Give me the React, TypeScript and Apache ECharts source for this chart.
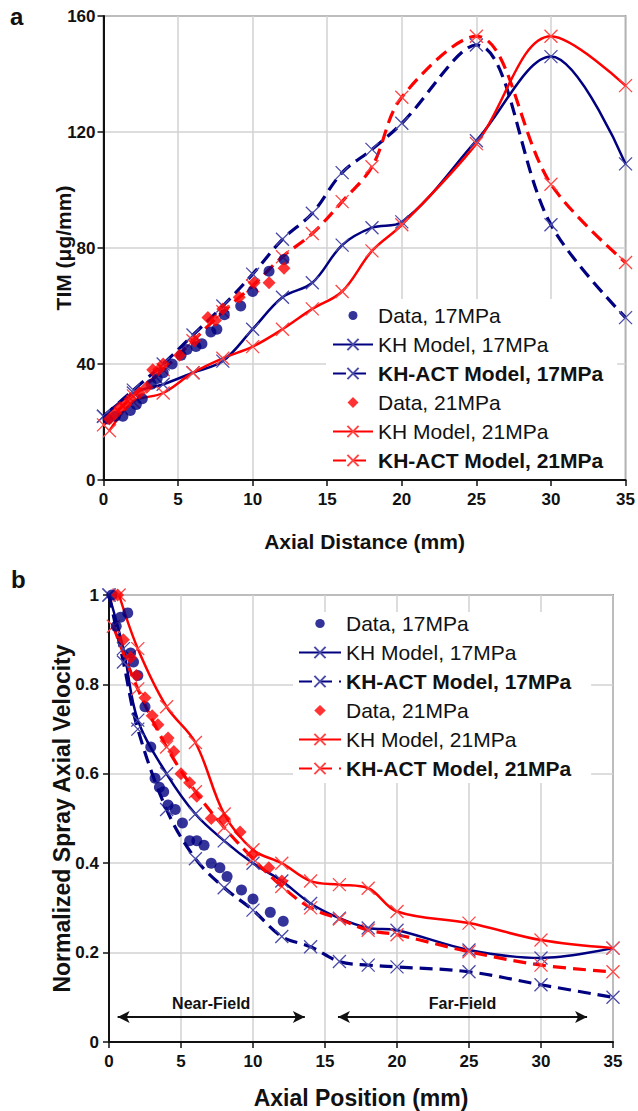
import React, { useEffect, useRef } from "react";
import * as echarts from "echarts";

// ---------- Panel a: TIM vs axial distance ----------
const timData17: number[][] = [[0.3,21],[0.8,22],[1.3,22],[1.8,24],[2.2,26],[2.6,28],[3.2,33],[3.6,35],[4.0,37],[4.6,40],[5.2,43],[5.6,45],[6.2,46],[6.6,47],[7.2,51],[7.6,52],[8.1,57],[9.2,60],[10.0,65],[11.1,72],[12.1,76]];
const timData21: number[][] = [[0.4,21],[0.8,23],[1.1,25],[1.5,26],[1.8,28],[2.4,30],[2.9,32],[3.3,38],[3.7,38],[4.0,40],[5.1,43],[6.1,48],[7.0,56],[7.5,55],[8.0,59],[9.1,63],[10.1,68],[11.1,68],[12.1,73]];
const timKH17: number[][] = [[0,22],[2,30],[4,33],[6,37],[8,41],[10,52],[12,63],[14,68],[16,81],[18,87],[20,89],[25,117],[30,146],[35,109]];
const timACT17: number[][] = [[0,22],[2,31],[4,40],[6,50],[8,60],[10,71],[12,83],[14,92],[16,106],[18,114],[20,123],[25,150],[30,88],[35,56]];
const timKH21: number[][] = [[0.4,17],[2,27],[4,30],[6,37],[8,42],[10,46],[12,52],[14,59],[16,65],[18,79],[20,88],[25,116],[30,153],[35,136]];
const timACT21: number[][] = [[0,19],[2,29],[4,38],[6,48],[8,58],[10,67],[12,77],[14,85],[16,96],[18,108],[20,132],[25,153],[30,102],[35,75]];

// ---------- Panel b: normalized spray axial velocity ----------
const velData17: number[][] = [[0.2,1.0],[0.5,0.93],[0.8,0.95],[1.3,0.96],[1.5,0.87],[1.7,0.85],[2.0,0.82],[2.5,0.75],[2.9,0.66],[3.2,0.59],[3.5,0.57],[3.8,0.56],[4.1,0.53],[4.6,0.52],[5.1,0.49],[5.6,0.45],[6.1,0.45],[6.6,0.44],[7.1,0.40],[7.7,0.39],[8.2,0.37],[9.2,0.34],[10.0,0.32],[11.2,0.29],[12.1,0.27]];
const velData21: number[][] = [[0.6,1.0],[1.0,0.90],[1.5,0.86],[1.9,0.82],[2.5,0.77],[3.0,0.73],[3.4,0.71],[4.1,0.68],[4.5,0.65],[5.0,0.60],[5.6,0.58],[6.1,0.55],[7.1,0.50],[8.0,0.50],[9.1,0.47],[10.0,0.42],[11.1,0.39],[12.0,0.36]];
const velKH17: number[][] = [[0,1.0],[1,0.88],[2,0.72],[4,0.60],[6,0.51],[8,0.45],[10,0.40],[12,0.36],[14,0.31],[16,0.277],[18,0.255],[20,0.25],[25,0.206],[30,0.188],[35,0.21]];
const velACT17: number[][] = [[0,1.0],[1,0.85],[2,0.70],[4,0.52],[6,0.41],[8,0.345],[10,0.295],[12,0.236],[14,0.213],[16,0.18],[18,0.172],[20,0.168],[25,0.157],[30,0.128],[35,0.10]];
const velKH21: number[][] = [[0.7,1.0],[2,0.88],[4,0.75],[6,0.67],[8,0.51],[10,0.43],[12,0.40],[14,0.36],[16,0.352],[18,0.344],[20,0.292],[25,0.266],[30,0.228],[35,0.21]];
const velACT21: number[][] = [[0.3,0.93],[2,0.79],[4,0.66],[6,0.56],[8,0.48],[10,0.41],[12,0.348],[14,0.30],[16,0.275],[18,0.25],[20,0.24],[25,0.202],[30,0.172],[35,0.157]];

// annotation ranges (panel b): [start, end] in mm, at a fixed velocity level
const nearFieldRange = [0.6, 13.6];
const farFieldRange = [15.9, 33.2];
const fieldArrowLevel = 0.056;

const seriesNames = [
  "Data, 17MPa",
  "KH Model, 17MPa",
  "KH-ACT Model, 17MPa",
  "Data, 21MPa",
  "KH Model, 21MPa",
  "KH-ACT Model, 21MPa",
];

const FONT = '"Liberation Sans", Arial, Helvetica, sans-serif';
const NAVY = "#000080";
const RED = "#ff0000";
const NAVY_X = "#4a4aa8";
const RED_X = "#ff4646";
const CROSS = "path://M0,0L10,10M10,0L0,10";
// small legend markers inside a 40x14 box (the moveTo corners fix the box size)
const LEG_CIRCLE = "path://M0,0M40,14M15.5,7a4.5,4.5 0 1,0 9,0a4.5,4.5 0 1,0 -9,0z";
const LEG_DIAMOND = "path://M0,0M40,14M20,1.5L25.5,7L20,12.5L14.5,7z";

function makeSeries(g: number, d17: number[][], kh17: number[][], act17: number[][], d21: number[][], kh21: number[][], act21: number[][]) {
  const common = { xAxisIndex: g, yAxisIndex: g };
  const solid = (c: string) => ({ color: c, width: 2.5 });
  const dashed = (c: string) => ({ color: c, width: 3.2, type: [13, 7] as any });
  const crossStyle = (c: string) => ({ color: c, borderColor: c, borderWidth: 1.3 });
  return [
    { ...common, name: seriesNames[0], type: "scatter", data: d17, symbol: "circle", symbolSize: 11, itemStyle: { color: NAVY }, z: 5 },
    { ...common, name: seriesNames[1], type: "line", data: kh17, smooth: 0.35, symbol: CROSS, symbolSize: 13, showAllSymbol: true, lineStyle: solid(NAVY), itemStyle: crossStyle(NAVY_X), z: 3 },
    { ...common, name: seriesNames[2], type: "line", data: act17, smooth: 0.35, symbol: CROSS, symbolSize: 13, showAllSymbol: true, lineStyle: dashed(NAVY), itemStyle: crossStyle(NAVY_X), z: 3 },
    { ...common, name: seriesNames[3], type: "scatter", data: d21, symbol: "diamond", symbolSize: 13, itemStyle: { color: RED }, z: 5 },
    { ...common, name: seriesNames[4], type: "line", data: kh21, smooth: 0.35, symbol: CROSS, symbolSize: 13, showAllSymbol: true, lineStyle: solid(RED), itemStyle: crossStyle(RED_X), z: 3 },
    { ...common, name: seriesNames[5], type: "line", data: act21, smooth: 0.35, symbol: CROSS, symbolSize: 13, showAllSymbol: true, lineStyle: dashed(RED), itemStyle: crossStyle(RED_X), z: 3 },
  ];
}

function makeLegend(left: number, top: number, itemWidth: number, padding: number[]) {
  return {
    orient: "vertical",
    left,
    top,
    itemWidth,
    itemHeight: 14,
    itemGap: 8,
    padding,
    backgroundColor: "#ffffff",
    z: 1,
    symbolKeepAspect: false,
    data: seriesNames.map((n, i) =>
      i === 0 ? { name: n, icon: LEG_CIRCLE } : i === 3 ? { name: n, icon: LEG_DIAMOND } : { name: n }
    ),
    selectedMode: false,
    formatter: (name: string) => (name.indexOf("ACT") >= 0 ? "{b|" + name + "}" : name),
    textStyle: {
      fontFamily: FONT,
      fontSize: 21,
      lineHeight: 20,
      color: "#111",
      rich: { b: { fontFamily: FONT, fontSize: 21, lineHeight: 20, fontWeight: "bold", color: "#111" } },
    },
  };
}

const axisLabelStyle = { fontFamily: FONT, fontSize: 17, fontWeight: "bold" as const, color: "#111" };
const axisNameStyle = { fontFamily: FONT, fontSize: 21, fontWeight: "bold" as const, color: "#111" };
const splitLine = { show: true, lineStyle: { color: "#d2d2d2", width: 1.5 } };
const axisLine = { show: true, onZero: false, lineStyle: { color: "#111", width: 2 } };
const axisTick = { show: true, inside: false, length: 6, lineStyle: { color: "#111", width: 1.5 } };

export default function App() {
  const ref = useRef<HTMLDivElement>(null);
  useEffect(() => {
    if (!ref.current) return;
    const chart = echarts.init(ref.current, undefined, { renderer: "svg" });
    const option: any = {
      animation: false,
      backgroundColor: "#ffffff",
      grid: [
        { left: 103.5, top: 16, width: 524.5, height: 464, show: true, borderColor: "#555", borderWidth: 1.5, backgroundColor: "transparent" },
        { left: 109, top: 595, width: 504, height: 447, show: true, borderColor: "#555", borderWidth: 1.5, backgroundColor: "transparent" },
      ],
      xAxis: [
        {
          type: "value", gridIndex: 0, min: 0, max: 35, interval: 5,
          axisLine, axisTick, splitLine,
          axisLabel: { ...axisLabelStyle, margin: 11 },
          name: "Axial Distance (mm)", nameLocation: "middle", nameGap: 51, nameMoveOverlap: false, nameTextStyle: axisNameStyle,
        },
        {
          type: "value", gridIndex: 1, min: 0, max: 35, interval: 5,
          axisLine, axisTick, splitLine,
          axisLabel: { ...axisLabelStyle, margin: 11 },
          name: "Axial Position (mm)", nameLocation: "middle", nameGap: 44, nameMoveOverlap: false, nameTextStyle: { ...axisNameStyle, fontSize: 23 },
        },
      ],
      yAxis: [
        {
          type: "value", gridIndex: 0, min: 0, max: 160, interval: 40,
          axisLine, axisTick, splitLine,
          axisLabel: { ...axisLabelStyle, margin: 8 },
          name: "TIM (μg/mm)", nameLocation: "middle", nameGap: 30, nameMoveOverlap: false, nameTextStyle: axisNameStyle,
        },
        {
          type: "value", gridIndex: 1, min: 0, max: 1, interval: 0.2,
          axisLine, axisTick, splitLine,
          axisLabel: { ...axisLabelStyle, margin: 10 },
          name: "Normalized Spray Axial Velocity", nameLocation: "middle", nameGap: 36, nameMoveOverlap: false, nameTextStyle: { ...axisNameStyle, fontSize: 23 },
        },
      ],
      legend: [
        makeLegend(326, 299, 40, [6, 14, 8, 6]),
        makeLegend(293, 612, 42, [1, 20, 4, 5]),
      ],
      series: [
        ...makeSeries(0, timData17, timKH17, timACT17, timData21, timKH21, timACT21),
        ...makeSeries(1, velData17, velKH17, velACT17, velData21, velKH21, velACT21),
        {
          name: "field-annotations",
          type: "line",
          xAxisIndex: 1,
          yAxisIndex: 1,
          data: [],
          silent: true,
          markLine: {
            silent: true,
            symbol: ["arrow", "arrow"],
            symbolSize: [9, 12],
            lineStyle: { color: "#111", width: 2, type: "solid" },
            label: {
              show: true,
              position: "insideMiddleTop",
              distance: 5,
              fontFamily: FONT,
              fontSize: 16,
              fontWeight: "bold",
              color: "#111",
              formatter: (p: any) => p.name,
            },
            data: [
              [
                { name: "Near-Field", coord: [nearFieldRange[0], fieldArrowLevel] },
                { coord: [nearFieldRange[1], fieldArrowLevel] },
              ],
              [
                { name: "Far-Field", coord: [farFieldRange[0], fieldArrowLevel] },
                { coord: [farFieldRange[1], fieldArrowLevel] },
              ],
            ],
          },
        },
      ],
      graphic: [
        { type: "text", left: 10, top: 4, style: { text: "a", font: `bold 24px ${FONT}`, fill: "#111" } },
        { type: "text", left: 11, top: 567, style: { text: "b", font: `bold 24px ${FONT}`, fill: "#111" } },
      ],
    };
    chart.setOption(option);
    return () => chart.dispose();
  }, []);
  return <div ref={ref} style={{ position: "fixed", left: 0, top: 0, width: 638, height: 1111 }} />;
}
